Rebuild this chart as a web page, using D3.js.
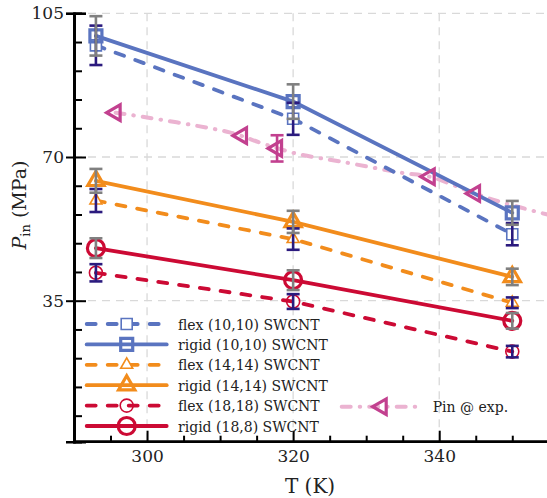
<!DOCTYPE html>
<html>
<head>
<meta charset="utf-8">
<script src="https://cdn.jsdelivr.net/npm/d3@7"></script>
<style>
  body { margin: 0; background: #fff; }
  svg { display: block; }
</style>
</head>
<body>
<svg class="chart" width="547" height="498"></svg>
<script>
const FONT = "DejaVu Serif";

// temperatures (K) of the simulations
const temps = [293, 320, 350];

// P_in (MPa) and error half-widths per nanotube
const rigid1010 = [99.5, 83.5, 56.4],  rigid1010Err = [4.8, 4.2, 2.9];
const flex1010  = [97.2, 79.3, 51.2],  flex1010Err  = [4.8, 3.9, 2.7];
const rigid1414 = [64.2, 54.2, 40.8],  rigid1414Err = [2.9, 2.7, 2.0];
const flex1414  = [59.4, 50.0, 34.5],  flex1414Err  = [2.8, 2.6, 1.3];
const rigid188  = [47.8, 40.0, 30.1],  rigid188Err  = [2.4, 2.4, 1.9];
const flex1818  = [41.8, 34.8, 22.6],  flex1818Err  = [2.1, 1.8, 1.4];

// experimental points and the fitted curve through them
const pinT   = [295.7, 313.0, 317.8, 338.7, 344.9];
const pinP   = [80.8, 75.2, 72.1, 65.2, 61.1];
const pinErr = [0, 0, 3.2, 0, 0];
const pinCurveT = [295.7, 311.3, 315.8, 320.5, 326.8, 335.0, 338.7, 344.9, 348.3, 355];
const pinCurveP = [80.8, 76.0, 73.3, 70.8, 68.8, 66.1, 65.2, 61.1, 59.1, 55.9];

const xMajor = [300, 320, 340];
const xMinor = [295, 305, 310, 315, 325, 330, 335, 345, 350];
const yMajor = [35, 70, 105];
const yMinor = [7, 14, 21, 28, 42, 49, 56, 63, 77, 84, 91, 98];

const BLUE = "#5a74c0", ORANGE = "#f28c1c", RED = "#cc0a34";
const GRAY_ERR = "#808080", PURPLE_ERR = "#2b1a7e";
const PINK = "#c2408f", PINK_LINE = "#ebb3d1";

const series = [
  { label: "flex (10,10) SWCNT",  vals: flex1010,  err: flex1010Err,  color: BLUE,   flex: true,  shape: "square" },
  { label: "rigid (10,10) SWCNT", vals: rigid1010, err: rigid1010Err, color: BLUE,   flex: false, shape: "square" },
  { label: "flex (14,14) SWCNT",  vals: flex1414,  err: flex1414Err,  color: ORANGE, flex: true,  shape: "triangle" },
  { label: "rigid (14,14) SWCNT", vals: rigid1414, err: rigid1414Err, color: ORANGE, flex: false, shape: "triangle" },
  { label: "flex (18,18) SWCNT",  vals: flex1818,  err: flex1818Err,  color: RED,    flex: true,  shape: "circle" },
  { label: "rigid (18,8) SWCNT",  vals: rigid188,  err: rigid188Err,  color: RED,    flex: false, shape: "circle" }
];

var chart = d3.select(".chart");
var x = d3.scaleLinear().domain([290, 355]).range([74, 548.8]);
var y = d3.scaleLinear().domain([0.66, 105]).range([441.7, 13.3]);

// dashed grid at the major ticks
var grid = chart.append("g")
  .attr("stroke", "#d9d9d9").attr("stroke-width", 1.3).attr("stroke-dasharray", "8,6");
grid.selectAll("line.gx").data(xMajor).enter().append("line")
  .attr("x1", d => x(d)).attr("x2", d => x(d)).attr("y1", y(105)).attr("y2", y(0.66));
grid.selectAll("line.gy").data(yMajor).enter().append("line")
  .attr("x1", x(290)).attr("x2", 547).attr("y1", d => y(d)).attr("y2", d => y(d));

// marker drawing: rigid = thick open, flex = thin with white fill
function markerPath(shape, flex) {
  if (shape == "square") return d3.symbol(d3.symbolSquare, flex ? 121 : 144)();
  if (shape == "triangle") return d3.symbol(d3.symbolTriangle, flex ? 62 : 115)();
  return d3.symbol(d3.symbolCircle, flex ? 133 : 227)();
}
function drawMarker(g, s, cx, cy) {
  g.append("path")
    .attr("d", markerPath(s.shape, s.flex))
    .attr("transform", "translate(" + cx + "," + cy + ")")
    .attr("fill", s.flex && s.shape != "circle" ? "#fff" : "none")
    .attr("stroke", s.color)
    .attr("stroke-width", s.flex ? 1.6 : 3.2);
}
function styleLine(p, s) {
  p.attr("fill", "none").attr("stroke", s.color).attr("stroke-width", 3.8)
   .attr("stroke-linecap", "round")
   .attr("stroke-dasharray", s.flex ? "9,12" : null);
}

var line = d3.line().x(d => x(d[0])).y(d => y(d[1]));

// experimental curve
chart.append("path")
  .datum(d3.zip(pinCurveT, pinCurveP))
  .attr("d", d3.line().x(d => x(d[0])).y(d => y(d[1])).curve(d3.curveCatmullRom))
  .attr("fill", "none").attr("stroke", PINK_LINE).attr("stroke-width", 4)
  .attr("stroke-linecap", "round").attr("stroke-dasharray", "9,9,0.5,9");

// simulation lines
series.forEach(function(s) {
  chart.append("path").datum(d3.zip(temps, s.vals)).attr("d", line).call(styleLine, s);
});

// markers
var marks = chart.append("g");
series.forEach(function(s) {
  temps.forEach(function(t, i) { drawMarker(marks, s, x(t), y(s.vals[i])); });
});
var triLeft = d3.symbol(d3.symbolTriangle, 105)();
pinT.forEach(function(t, i) {
  marks.append("path").attr("d", triLeft)
    .attr("transform", "translate(" + x(t) + "," + y(pinP[i]) + ") rotate(-90)")
    .attr("fill", "none").attr("stroke", PINK).attr("stroke-width", 3.2);
});

// error bars (flex first, rigid on top)
function errBar(g, cx, v, e, color) {
  var y0 = y(v - e), y1 = y(v + e), w = 6.5;
  g.append("line").attr("x1", cx).attr("x2", cx).attr("y1", y0).attr("y2", y1);
  g.append("line").attr("x1", cx - w).attr("x2", cx + w).attr("y1", y0).attr("y2", y0);
  g.append("line").attr("x1", cx - w).attr("x2", cx + w).attr("y1", y1).attr("y2", y1);
  g.attr("stroke", color);
}
var errs = chart.append("g").attr("stroke-width", 2.6);
series.filter(s => s.flex).concat(series.filter(s => !s.flex)).forEach(function(s) {
  temps.forEach(function(t, i) {
    errBar(errs.append("g"), x(t), s.vals[i], s.err[i], s.flex ? PURPLE_ERR : GRAY_ERR);
  });
});
pinT.forEach(function(t, i) {
  if (pinErr[i] > 0) errBar(errs.append("g"), x(t), pinP[i], pinErr[i], PINK);
});

// axes
var axisX = chart.append("g").attr("transform", "translate(0," + y(0.66) + ")");
axisX.call(d3.axisBottom(x).tickValues(xMajor).tickSize(-11).tickPadding(8).tickFormat(d3.format("d")));
axisX.append("g").call(d3.axisBottom(x).tickValues(xMinor).tickSize(-6).tickFormat(""));
axisX.selectAll(".domain").attr("d", "M74,0H547");

var axisY = chart.append("g").attr("transform", "translate(" + x(290) + ",0)");
axisY.call(d3.axisLeft(y).tickValues(yMajor).tickSize(8).tickPadding(2).tickFormat(d3.format("d")));
axisY.append("g").call(d3.axisLeft(y).tickValues(yMajor).tickSize(-12).tickFormat(""));
axisY.append("g").call(d3.axisLeft(y).tickValues(yMinor).tickSize(-8).tickFormat(""));

chart.selectAll(".domain").attr("stroke", "#000").attr("stroke-width", 2.6);
chart.selectAll(".tick line").attr("stroke", "#000").attr("stroke-width", 2);
chart.selectAll(".tick text").attr("font-family", FONT).attr("font-size", "17px").attr("fill", "#222");

// axis titles
chart.append("text")
  .attr("x", 310).attr("y", 493).attr("text-anchor", "middle").attr("font-family", FONT)
  .attr("font-size", "20px").attr("fill", "#222").text("T (K)");
var yt = chart.append("text")
  .attr("transform", "translate(26,205) rotate(-90)").attr("font-family", FONT)
  .attr("text-anchor", "middle").attr("font-size", "19px").attr("fill", "#222");
yt.append("tspan").attr("font-style", "italic").text("P");
yt.append("tspan").attr("font-size", "13px").attr("dy", 4).text("in");
yt.append("tspan").attr("dy", -4).text(" (MPa)");

// legend
var legend = chart.append("g");
series.forEach(function(s, i) {
  var ly = 324 + i * 20.4;
  var g = legend.append("g");
  g.append("path").datum([[86.7, ly], [166.7, ly]]).attr("d", d3.line()).call(styleLine, s);
  drawMarker(g, s, 126.7, ly);
  g.append("text").attr("x", 178).attr("y", ly + 5.5).attr("font-family", FONT)
    .attr("font-size", "14px").attr("fill", "#222").text(s.label);
});
var pinLeg = legend.append("g");
pinLeg.append("path").datum([[341.7, 406.7], [421.7, 406.7]]).attr("d", d3.line())
  .attr("fill", "none").attr("stroke", PINK_LINE).attr("stroke-width", 4)
  .attr("stroke-linecap", "round").attr("stroke-dasharray", "9,9,0.5,9");
pinLeg.append("path").attr("d", triLeft)
  .attr("transform", "translate(381.7,406.7) rotate(-90)")
  .attr("fill", "none").attr("stroke", PINK).attr("stroke-width", 3.2);
pinLeg.append("text").attr("x", 432.7).attr("y", 412.2).attr("font-family", FONT)
  .attr("font-size", "14px").attr("fill", "#222").text("Pin @ exp.");
</script>
</body>
</html>
